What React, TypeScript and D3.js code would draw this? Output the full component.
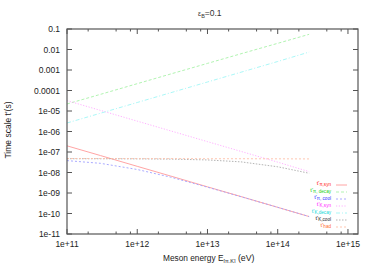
import React from "react";
import * as d3 from "d3";

// ---- data ----
const energies = [1e11, 3e11, 1e12, 3e12, 1e13, 3e13, 1e14, 2.8e14];
const piSyn = [2e-7, 6.7e-8, 2e-8, 6.7e-9, 2e-9, 6.7e-10, 2e-10, 7.1e-11];
const piDecay = [2.2e-5, 6.5e-5, 2.15e-4, 6.4e-4, 2.1e-3, 6.2e-3, 2.0e-2, 5.5e-2];
const piCool = [3.8e-8, 2.8e-8, 1.4e-8, 5.9e-9, 1.92e-9, 6.6e-10, 2e-10, 7.1e-11];
const kSyn = [3.2e-5, 1.07e-5, 3.2e-6, 1.07e-6, 3.2e-7, 1.07e-7, 3.2e-8, 1.1e-8];
const kDecay = [2.6e-6, 7.8e-6, 2.6e-5, 7.8e-5, 2.6e-4, 7.8e-4, 2.6e-3, 7.5e-3];
const kCool = [4.7e-8, 4.68e-8, 4.63e-8, 4.5e-8, 4.1e-8, 3.3e-8, 1.9e-8, 9.2e-9];
const had = [4.8e-8, 4.8e-8, 4.75e-8, 4.75e-8, 4.7e-8, 4.7e-8, 4.65e-8, 4.6e-8];

const xTickValues = [1e11, 1e12, 1e13, 1e14, 1e15];
const xTickLabels = ["1e+11", "1e+12", "1e+13", "1e+14", "1e+15"];
const yTickValues = [0.1, 0.01, 0.001, 1e-4, 1e-5, 1e-6, 1e-7, 1e-8, 1e-9, 1e-10, 1e-11];
const yTickLabels = ["0.1", "0.01", "0.001", "0.0001", "1e-05", "1e-06", "1e-07", "1e-08", "1e-09", "1e-10", "1e-11"];
const minorMultipliers = [2, 5, 8];

const seriesNames = ["π,syn", "π, decay", "π, cool", "K,syn", "K,decay", "K,cool", "had"];
const seriesValues = [piSyn, piDecay, piCool, kSyn, kDecay, kCool, had];
const lineColors = ["#ff9a9a", "#a8f2a8", "#a0a0ff", "#ffa8ff", "#a0f6f6", "#ababab", "#ffc0a8"];
const textColors = ["#ff2020", "#20d020", "#3030ff", "#ff20ff", "#10d8d8", "#202020", "#ff6a30"];
const dashes = ["", "3,2", "2,2", "1.2,1.6", "4,2,1,2", "1.5,1.5", "2,2"];

const FONT = "'Liberation Sans', Arial, sans-serif";

export default function App() {
  const W = 375, H = 263;
  const left = 67, right = 358, top = 29, bottom = 234;

  const x = d3.scaleLog().domain([1e11, 1.39e15]).range([left, right]);
  const y = d3.scaleLog().domain([1e-11, 0.1]).range([bottom, top]);

  const line = d3
    .line<[number, number]>()
    .x((d) => x(d[0]))
    .y((d) => y(d[1]));

  const minorTicks: number[] = [];
  for (let dec = 11; dec <= 14; dec++) {
    for (const m of minorMultipliers) {
      const v = m * Math.pow(10, dec);
      if (v < 1.39e15) minorTicks.push(v);
    }
  }

  const legendY0 = 185;
  const legendStep = 7;

  return (
    <svg
      width={W}
      height={H}
      style={{ position: "absolute", left: 0, top: 0, background: "#fff" }}
      fontFamily={FONT}
    >
      <rect x={0} y={0} width={W} height={H} fill="#fff" />
      {/* title */}
      <text x={198} y={16} fontSize={8.5} fill="#333">
        <tspan fontSize={7}>ε</tspan>
        <tspan fontSize={5.5} dy={2}>B</tspan>
        <tspan dy={-2}>=0.1</tspan>
      </text>

      {/* series */}
      {seriesValues.map((vals, i) => (
        <path
          key={i}
          d={line(energies.map((e, j) => [e, vals[j]] as [number, number])) || ""}
          fill="none"
          stroke={lineColors[i]}
          strokeWidth={0.9}
          strokeDasharray={dashes[i]}
        />
      ))}

      {/* ticks */}
      {xTickValues.map((v) => (
        <g key={"xt" + v}>
          <line x1={x(v)} x2={x(v)} y1={bottom} y2={bottom - 5} stroke="#555" />
          <line x1={x(v)} x2={x(v)} y1={top} y2={top + 5} stroke="#555" />
        </g>
      ))}
      {minorTicks.map((v) => (
        <g key={"xm" + v}>
          <line x1={x(v)} x2={x(v)} y1={bottom} y2={bottom - 2.5} stroke="#555" />
          <line x1={x(v)} x2={x(v)} y1={top} y2={top + 2.5} stroke="#555" />
        </g>
      ))}
      {yTickValues.map((v) => (
        <g key={"yt" + v}>
          <line x1={left} x2={left + 5} y1={y(v)} y2={y(v)} stroke="#555" />
          <line x1={right} x2={right - 5} y1={y(v)} y2={y(v)} stroke="#555" />
        </g>
      ))}

      {/* border */}
      <rect
        x={left}
        y={top}
        width={right - left}
        height={bottom - top}
        fill="none"
        stroke="#555"
        strokeWidth={1.2}
      />

      {/* tick labels */}
      {xTickValues.map((v, i) => (
        <text key={"xl" + v} x={x(v)} y={247} fontSize={8.5} textAnchor="middle" fill="#222">
          {xTickLabels[i]}
        </text>
      ))}
      {yTickValues.map((v, i) => (
        <text key={"yl" + v} x={60} y={y(v) + 3} fontSize={8.5} textAnchor="end" fill="#222">
          {yTickLabels[i]}
        </text>
      ))}

      {/* axis labels */}
      <text x={163} y={261} fontSize={8.3} fill="#222">
        Meson energy  E
        <tspan fontSize={5.5} dy={1.5}>[π,K]</tspan>
        <tspan fontSize={8.8} dy={-1.5}> (eV)</tspan>
      </text>
      <text
        transform="translate(11,130) rotate(-90)"
        fontSize={8.5}
        textAnchor="middle"
        fill="#222"
      >
        Time scale t'(s)
      </text>

      {/* legend */}
      {seriesNames.map((name, i) => {
        const ly = legendY0 + i * legendStep;
        return (
          <g key={"lg" + i}>
            <text x={331} y={ly} fontSize={5.8} textAnchor="end" fill={textColors[i]}>
              t'
              <tspan fontSize={4.6} dy={1.4}>{name}</tspan>
            </text>
            <line
              x1={336}
              x2={347}
              y1={ly}
              y2={ly}
              stroke={lineColors[i]}
              strokeWidth={0.9}
              strokeDasharray={dashes[i]}
            />
          </g>
        );
      })}
    </svg>
  );
}
